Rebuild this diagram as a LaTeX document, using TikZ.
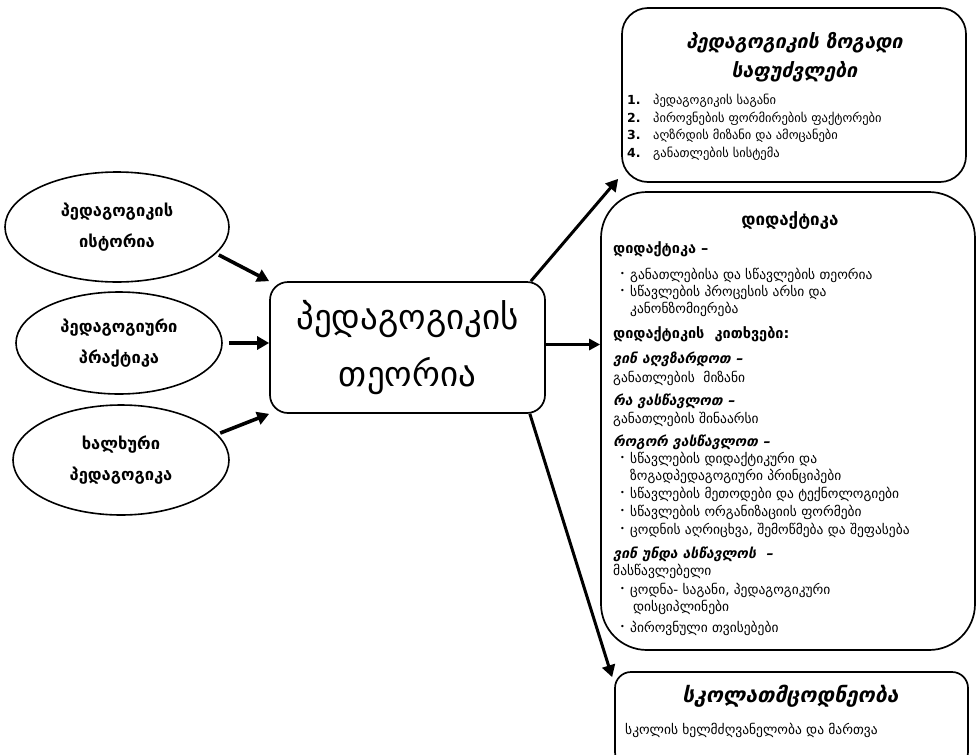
\documentclass[tikz,border=0pt]{standalone}
\usepackage{fontspec}
\setmainfont{DejaVu Sans}
\newfontfamily\hdfont[UprightFont={* Bold},FakeSlant=0.22]{DejaVu Sans}
\usetikzlibrary{arrows.meta,shapes.geometric}
\newcommand\fsz[1]{\fontsize{#1}{#1}\selectfont}
\newcommand\blt{\makebox[10pt][l]{\fsz{8}\raisebox{3pt}{•}}}
\tikzset{
  box/.style={draw, line width=1.7pt},
  ell/.style={draw, ellipse, line width=1.6pt, inner sep=0pt, align=center, font=\bfseries\fsz{16.5}},
  bigarr/.style={line width=3.6pt, -{Triangle[length=12pt,width=13pt]}},
  txt/.style={anchor=base west, inner sep=0pt, font=\fsz{13.5}},
  lst/.style={anchor=base west, inner sep=0pt, font=\fsz{12.5}},
  hd/.style={anchor=base west, inner sep=0pt, font=\hdfont\fsz{14}},
  bd/.style={anchor=base west, inner sep=0pt, font=\bfseries\fsz{14.5}},
}
\begin{document}
\begin{tikzpicture}[x=1pt,y=-1pt]
\useasboundingbox (0,0) rectangle (980,755);
% ellipses
\node[ell, minimum width=224pt, minimum height=110pt] (e1) at (117,227) {პედაგოგიკის\\[13pt]ისტორია};
\node[ell, minimum width=206pt, minimum height=102pt] (e2) at (119,343) {პედაგოგიური\\[13pt]პრაქტიკა};
\node[ell, minimum width=216pt, minimum height=110pt] (e3) at (121,460) {ხალხური\\[13pt]პედაგოგიკა};
% centre
\node[box, rounded corners=18pt, minimum width=275pt, minimum height=131pt, align=center, font=\fsz{35}] (ctr) at (407.5,347.5) {პედაგოგიკის\\[18pt]თეორია};
% right boxes
\node[box, rounded corners=26pt, minimum width=344pt, minimum height=174pt] (top) at (794,95) {};
\node[box, rounded corners=46pt, minimum width=374pt, minimum height=458pt] (did) at (788,421) {};
\node[box, rounded corners=16pt, minimum width=353pt, minimum height=96pt] (bot) at (791.5,720) {};
% arrows
\draw[bigarr, shorten <=3pt] (e1.-15) -- (ctr.north west);
\draw[bigarr, shorten <=6pt] (e2.east) -- (e2.east -| ctr.west);
\draw[bigarr, shorten <=3pt] (e3.15) -- (ctr.south west);
\draw[bigarr, line width=3pt] ([xshift=-15pt]ctr.north east) -- ([xshift=-3pt,yshift=4pt]top.south west);
\draw[bigarr, line width=3pt, -{Triangle[length=11pt,width=11pt]}] ([yshift=3pt]ctr.east) -- ([yshift=3pt]did.west |- ctr.east);
\draw[bigarr, line width=3pt] ([xshift=-16pt]ctr.south east) -- ([xshift=-2pt,yshift=-6pt]bot.north west);
% top box text
\node[anchor=base, inner sep=0pt, font=\hdfont\fsz{19.5}] (t1) at (794,48) {პედაგოგიკის ზოგადი};
\node[anchor=base, inner sep=0pt, font=\hdfont\fsz{19.5}] (t2) at (794,77) {საფუძვლები};
\node[lst] (l1) at (627,104) {\makebox[26pt][l]{\bfseries 1.}პედაგოგიკის საგანი};
\node[lst] (l2) at (627,122) {\makebox[26pt][l]{\bfseries 2.}პიროვნების ფორმირების ფაქტორები};
\node[lst] (l3) at (627,139) {\makebox[26pt][l]{\bfseries 3.}აღზრდის მიზანი და ამოცანები};
\node[lst] (l4) at (627,157) {\makebox[26pt][l]{\bfseries 4.}განათლების სისტემა};
% didactics text
\node[anchor=base, inner sep=0pt, font=\bfseries\fsz{17}] (d0) at (790,225) {დიდაქტიკა};
\node[bd] (d1) at (613,253) {დიდაქტიკა –};
\node[txt] (d2) at (620,279) {\blt განათლებისა და სწავლების თეორია};
\node[txt] (d3) at (620,296) {\blt სწავლების პროცესის არსი და};
\node[txt] (d4) at (630,313) {კანონზომიერება};
\node[bd] (d5) at (613,338) {დიდაქტიკის\ \ კითხვები:};
\node[hd] (d6) at (613,363) {ვინ აღვზარდოთ –};
\node[txt] (d7) at (613,382) {განათლების\ \ მიზანი};
\node[hd] (d8) at (613,405) {რა ვასწავლოთ –};
\node[txt] (d9) at (613,423) {განათლების შინაარსი};
\node[hd] (d10) at (613,446) {როგორ ვასწავლოთ –};
\node[txt] (d11) at (620,463) {\blt სწავლების დიდაქტიკური და};
\node[txt] (d12) at (630,480) {ზოგადპედაგოგიური პრინციპები};
\node[txt] (d13) at (620,498) {\blt სწავლების მეთოდები და ტექნოლოგიები};
\node[txt] (d14) at (620,516) {\blt სწავლების ორგანიზაციის ფორმები};
\node[txt] (d15) at (620,534) {\blt ცოდნის აღრიცხვა, შემოწმება და შეფასება};
\node[hd] (d16) at (613,558) {ვინ უნდა ასწავლოს\ \ –};
\node[txt] (d17) at (613,575) {მასწავლებელი};
\node[txt] (d18) at (620,594) {\blt ცოდნა- საგანი, პედაგოგიკური};
\node[txt] (d19) at (633,611) {დისციპლინები};
\node[txt] (d20) at (620,632) {\blt პიროვნული თვისებები};
% bottom box text
\node[anchor=base, inner sep=0pt, font=\hdfont\fsz{21}] (b1) at (790,702) {სკოლათმცოდნეობა};
\node[anchor=base west, inner sep=0pt, font=\fsz{13.5}] (b2) at (625,734) {სკოლის ხელმძღვანელობა და მართვა};
\end{tikzpicture}
\end{document}
